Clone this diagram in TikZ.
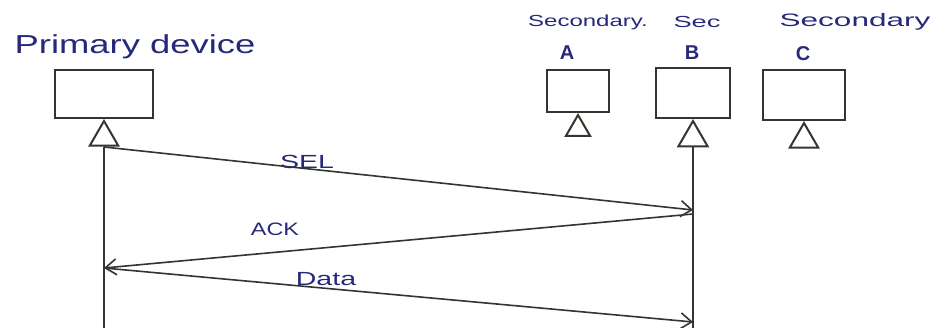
\documentclass[tikz,border=0pt]{standalone}
\usepackage{fontspec}
\setmainfont{Liberation Sans}
\usetikzlibrary{arrows.meta,shapes.geometric}
\definecolor{ink}{HTML}{26297A}
\definecolor{pen}{HTML}{33362F}
\begin{document}
\begin{tikzpicture}[x=1pt,y=-1pt,
  devbox/.style={draw=pen,line width=2pt,inner sep=0pt},
  tri/.style={draw=pen,line width=2pt,regular polygon,regular polygon sides=3,inner sep=0pt,minimum size=#1,anchor=corner 1},
  lifeline/.style={draw=pen,line width=1.7pt},
  msg/.style={draw=pen,line width=1.6pt,-{Straight Barb[length=11pt,width=16pt]}},
  lbl/.style={text=ink,inner sep=0pt}]
\fill[white] (0,0) rectangle (933,328);
\useasboundingbox (0,0) rectangle (933,328);

% labels
\node[lbl] (tp) at (135,47) {\scalebox{1.4}[1]{\fontsize{26}{26}\selectfont Primary device}};
\node[lbl] (tsa) at (588,22) {\scalebox{1.5}[1]{\fontsize{16}{16}\selectfont Secondary.}};
\node[lbl] (tla) at (567,53) {\fontsize{20}{20}\selectfont\bfseries A};
\node[lbl] (tsb) at (697,22) {\scalebox{1.7}[1]{\fontsize{16}{16}\selectfont Sec}};
\node[lbl] (tlb) at (692,53) {\fontsize{20}{20}\selectfont\bfseries B};
\node[lbl] (tsc) at (855,22) {\scalebox{1.75}[1]{\fontsize{18}{18}\selectfont Secondary}};
\node[lbl] (tlc) at (803,54) {\fontsize{20}{20}\selectfont\bfseries C};

% devices
\node[devbox,minimum width=98pt,minimum height=48pt] (pb) at (104,94) {};
\node[devbox,minimum width=62pt,minimum height=42pt] (ab) at (578,91) {};
\node[devbox,minimum width=74pt,minimum height=50pt] (bb) at (693,93) {};
\node[devbox,minimum width=82pt,minimum height=50pt] (cb) at (804,95) {};

\node[tri=33pt] (pt) at (pb.south) {};
\node[tri=28pt] (at) at (ab.south) {};
\node[tri=34pt] (bt) at (bb.south) {};
\node[tri=33pt] (ct) at (cb.south) {};

% lifelines
\coordinate (pend) at (pt.south |- 0,330);
\coordinate (bend) at (bt.south |- 0,330);
\draw[lifeline] (pt.south) -- (pend);
\draw[lifeline] (bt.south) -- (bend);

% message points
\coordinate (s1) at (pt.south |- 0,147);
\coordinate (s2) at (bt.south |- 0,210);
\coordinate (a1) at (bt.south |- 0,214);
\coordinate (a2) at (pt.south |- 0,268);
\coordinate (d2) at (bt.south |- 0,322);

\draw[msg] (s1) -- (s2);
\draw[msg] (a1) -- (a2);
\draw[msg] (a2) -- (d2);

\node[lbl] (lsel) at (307,162) {\scalebox{1.5}[1]{\fontsize{19}{19}\selectfont SEL}};
\node[lbl] (lack) at (275,229) {\scalebox{1.3}[1]{\fontsize{18}{18}\selectfont ACK}};
\node[lbl] (ldata) at (326,279) {\scalebox{1.5}[1]{\fontsize{19}{19}\selectfont Data}};
\end{tikzpicture}
\end{document}
